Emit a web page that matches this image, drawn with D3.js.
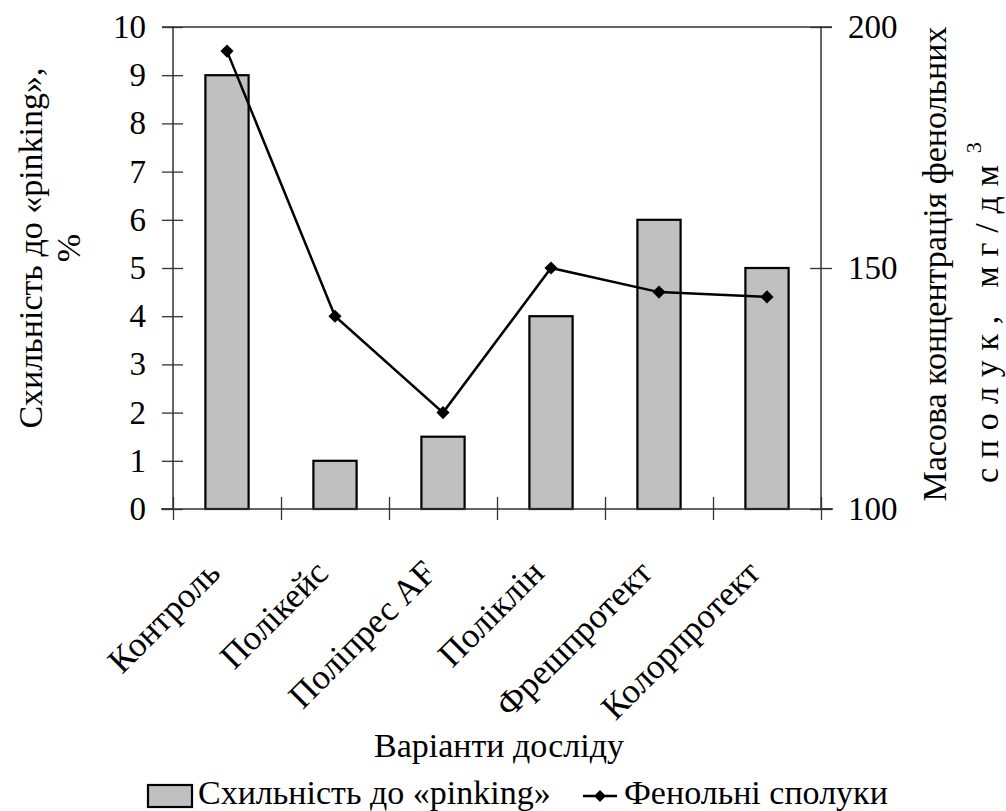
<!DOCTYPE html>
<html>
<head>
<meta charset="utf-8">
<script src="https://cdn.jsdelivr.net/npm/d3@7"></script>
<style>
  html, body { margin: 0; padding: 0; background: #fff; }
  svg { display: block; }
</style>
</head>
<body>
<svg id="chart" width="1006" height="811"></svg>
<script>
// Варіанти досліду
const categories = ["Контроль", "Полікейс", "Поліпрес AF", "Поліклін", "Фрешпротект", "Колорпротект"];
// Схильність до «pinking», %
const pinking = [9, 1, 1.5, 4, 6, 5];
// Масова концентрація фенольних сполук, мг/дм³
const phenolics = [195, 140, 120, 150, 145, 144];
const leftTicks = [0, 1, 2, 3, 4, 5, 6, 7, 8, 9, 10];
const rightTicks = [100, 150, 200];

const svg = d3.select("#chart")
  .attr("font-family", '"Liberation Serif", "Times New Roman", serif');
const plot = { left: 173, right: 821, top: 27, bottom: 509 };
const fontSize = 33;
const axisColor = "#333";

const x = d3.scaleBand().domain(categories).range([plot.left, plot.right]).padding(0);
const yL = d3.scaleLinear().domain([0, 10]).range([plot.bottom, plot.top]);
const yR = d3.scaleLinear().domain([100, 200]).range([plot.bottom, plot.top]);
const barW = x.bandwidth() * 0.4;

// top border of the plot area
svg.append("line")
  .attr("x1", plot.left).attr("x2", plot.right)
  .attr("y1", plot.top).attr("y2", plot.top)
  .attr("stroke", axisColor).attr("stroke-width", 1.5);

// bars
svg.append("g").selectAll("rect")
  .data(categories)
  .join("rect")
  .attr("x", d => x(d) + (x.bandwidth() - barW) / 2)
  .attr("y", (d, i) => yL(pinking[i]))
  .attr("width", barW)
  .attr("height", (d, i) => yL(0) - yL(pinking[i]))
  .attr("fill", "#c0c0c0")
  .attr("stroke", "#000")
  .attr("stroke-width", 2.2);

// left axis
const gL = svg.append("g")
  .attr("transform", `translate(${plot.left},0)`)
  .call(d3.axisLeft(yL).tickValues(leftTicks).tickFormat(d3.format("d")).tickSize(11).tickPadding(16));
gL.selectAll(".tick line").attr("x1", 10);

// right axis
const gR = svg.append("g")
  .attr("transform", `translate(${plot.right},0)`)
  .call(d3.axisRight(yR).tickValues(rightTicks).tickFormat(d3.format("d")).tickSize(11).tickPadding(16));
gR.selectAll(".tick line").attr("x1", -11);

// bottom axis with ticks at category boundaries
const xEdge = d3.scaleLinear().domain([0, categories.length]).range([plot.left, plot.right]);
const gB = svg.append("g")
  .attr("transform", `translate(0,${plot.bottom})`)
  .call(d3.axisBottom(xEdge).tickValues(d3.range(categories.length + 1)).tickFormat("").tickSize(11));
gB.selectAll(".tick line").attr("y1", -12);

[gL, gR, gB].forEach(g => {
  g.attr("font-family", null).attr("font-size", null);
  g.select(".domain").attr("stroke", axisColor).attr("stroke-width", 1.5);
  g.selectAll(".tick line").attr("stroke", axisColor).attr("stroke-width", 1.3);
  g.selectAll("text").attr("font-size", fontSize).attr("fill", "#000");
});
gL.select(".domain").attr("d", `M-11,${plot.bottom}H0V${plot.top}H-11`);
gR.select(".domain").attr("d", `M11,${plot.bottom}H0V${plot.top}H11`);
gB.select(".domain").attr("d", `M${plot.left - 12},0H${plot.right + 12}`);

// category labels, rotated
svg.append("g").selectAll("text")
  .data(categories)
  .join("text")
  .attr("transform", d => `translate(${x(d) + x.bandwidth() / 2 - 5},${plot.bottom + 66}) rotate(-45)`)
  .attr("text-anchor", "end")
  .attr("font-size", 35)
  .text(d => d);

// phenolics line
const line = d3.line()
  .x((d, i) => x(categories[i]) + x.bandwidth() / 2)
  .y(d => yR(d));
svg.append("path")
  .datum(phenolics)
  .attr("d", line)
  .attr("fill", "none")
  .attr("stroke", "#000")
  .attr("stroke-width", 2.5);
svg.append("g").selectAll("path")
  .data(phenolics)
  .join("path")
  .attr("transform", (d, i) => `translate(${x(categories[i]) + x.bandwidth() / 2},${yR(d)})`)
  .attr("d", d3.symbol(d3.symbolDiamond2, 110))
  .attr("fill", "#000");

// axis titles
const leftTitle = svg.append("text")
  .attr("transform", `translate(42,248) rotate(-90)`)
  .attr("text-anchor", "middle")
  .attr("font-size", 34);
leftTitle.append("tspan").attr("x", 0).attr("y", 0).text("Схильність до «pinking»,");
leftTitle.append("tspan").attr("x", 0).attr("y", 38).text("%");

const rightTitle = svg.append("text")
  .attr("transform", `translate(946,264) rotate(-90)`)
  .attr("font-size", 34);
rightTitle.append("tspan").attr("x", 0).attr("y", 0).attr("text-anchor", "middle")
  .text("Масова концентрація фенольних");
// second line, spread over the axis height
const rightTitle2 = svg.append("text")
  .attr("transform", `translate(946,264) rotate(-90)`)
  .attr("font-size", 34);
rightTitle2.append("tspan").attr("x", -219).attr("y", 52)
  .attr("textLength", 318).attr("lengthAdjust", "spacing")
  .text("сполук,  мг/дм");
rightTitle2.append("tspan").attr("dx", 2).attr("dy", -17).attr("font-size", 22).text("3");

// x axis title
svg.append("text")
  .attr("x", 499).attr("y", 757)
  .attr("text-anchor", "middle")
  .attr("font-size", 34)
  .text("Варіанти досліду");

// legend
const lg = svg.append("g");
lg.append("rect").attr("x", 148).attr("y", 785).attr("width", 44).attr("height", 22)
  .attr("fill", "#c0c0c0").attr("stroke", "#000").attr("stroke-width", 2.2);
lg.append("text").attr("x", 198).attr("y", 804).attr("font-size", 34).text("Схильність до «pinking»");
lg.append("line").attr("x1", 583).attr("x2", 617).attr("y1", 796).attr("y2", 796)
  .attr("stroke", "#000").attr("stroke-width", 2.5);
lg.append("path").attr("transform", "translate(600,796)")
  .attr("d", d3.symbol(d3.symbolDiamond2, 90)).attr("fill", "#000");
lg.append("text").attr("x", 624).attr("y", 804).attr("font-size", 34).text("Фенольні сполуки");
</script>
</body>
</html>
